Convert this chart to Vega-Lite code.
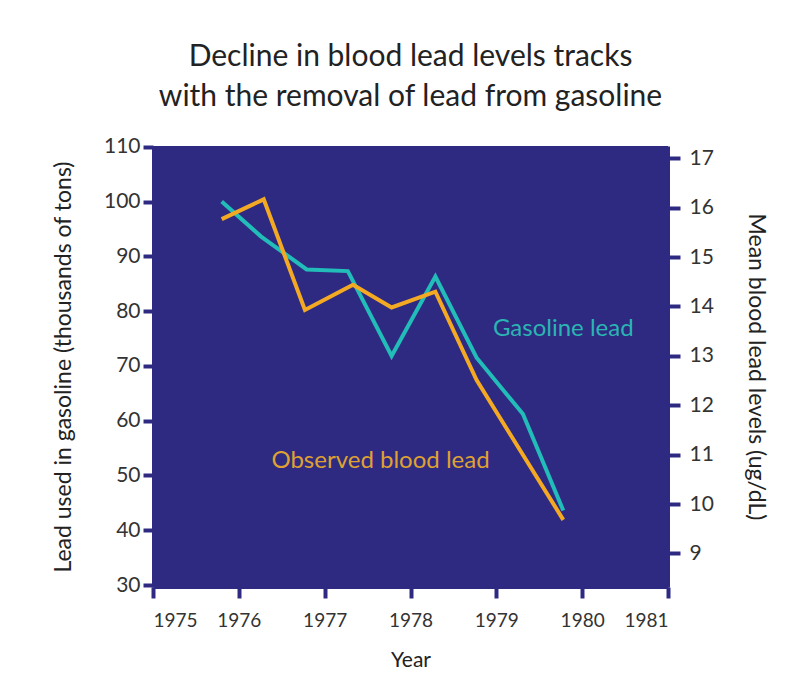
{
  "$schema": "https://vega.github.io/schema/vega-lite/v6.json",
  "width": 515,
  "height": 441,
  "autosize": {"type": "none"},
  "padding": {"left": 153, "top": 146, "right": 141, "bottom": 96},
  "background": "#ffffff",
  "title": {
    "text": ["Decline in blood lead levels tracks", "with the removal of lead from gasoline"],
    "font": "Lato",
    "fontSize": 30,
    "fontWeight": "normal",
    "lineHeight": 40,
    "color": "#222222",
    "anchor": "middle",
    "offset": 24
  },
  "datasets": {
    "gas": [
      {"year": 1975.80, "value": 100.0},
      {"year": 1976.26, "value": 93.6},
      {"year": 1976.79, "value": 87.6},
      {"year": 1977.27, "value": 87.3},
      {"year": 1977.78, "value": 71.8},
      {"year": 1978.29, "value": 86.3},
      {"year": 1978.77, "value": 71.5},
      {"year": 1979.31, "value": 61.2},
      {"year": 1979.78, "value": 43.6}
    ],
    "blood": [
      {"year": 1975.80, "value": 15.77},
      {"year": 1976.29, "value": 16.17},
      {"year": 1976.77, "value": 13.93},
      {"year": 1977.33, "value": 14.44},
      {"year": 1977.78, "value": 13.98},
      {"year": 1978.29, "value": 14.30},
      {"year": 1978.77, "value": 12.51},
      {"year": 1979.78, "value": 9.68}
    ],
    "gasLabel": [{"year": 1978.96, "value": 75.4, "label": "Gasoline lead"}],
    "bloodLabel": [{"year": 1976.38, "value": 10.73, "label": "Observed blood lead"}]
  },
  "layer": [
    {
      "encoding": {
        "x": {
          "field": "year", "type": "quantitative",
          "scale": {"domain": [1975, 1981], "nice": false, "zero": false},
          "axis": {"title": "Year", "values": [1975, 1976, 1977, 1978, 1979, 1980, 1981], "format": "d", "tickSize": 11, "labelPadding": 13, "titlePadding": 19, "titleFontSize": 21, "labelFontSize": 19}
        },
        "y": {
          "field": "value", "type": "quantitative",
          "scale": {"domain": [29.64, 110.13], "nice": false, "zero": false},
          "axis": {"orient": "left", "title": "Lead used in gasoline (thousands of tons)", "values": [30, 40, 50, 60, 70, 80, 90, 100, 110], "tickSize": 10, "labelPadding": 3, "titlePadding": 28, "labelFontSize": 21, "titleFontSize": 23}
        }
      },
      "layer": [
        {"data": {"name": "gas"}, "mark": {"type": "line", "color": "#22bdb8", "strokeWidth": 4, "strokeJoin": "miter"}},
        {"data": {"name": "gasLabel"}, "mark": {"type": "text", "color": "#2bb4b2", "font": "Lato", "fontSize": 24, "align": "left", "baseline": "alphabetic"}, "encoding": {"text": {"field": "label"}}}
      ]
    },
    {
      "encoding": {
        "x": {
          "field": "year", "type": "quantitative",
          "scale": {"domain": [1975, 1981], "nice": false, "zero": false},
          "axis": {"title": "Year", "values": [1975, 1976, 1977, 1978, 1979, 1980, 1981], "format": "d", "tickSize": 11, "labelPadding": 13, "titlePadding": 19, "titleFontSize": 21, "labelFontSize": 19}
        },
        "y": {
          "field": "value", "type": "quantitative",
          "scale": {"domain": [8.32, 17.25], "nice": false, "zero": false},
          "axis": {"orient": "right", "title": "Mean blood lead levels (ug/dL)", "values": [9, 10, 11, 12, 13, 14, 15, 16, 17], "tickSize": 12, "labelPadding": 9, "titlePadding": 30, "titleAngle": 90, "labelFontSize": 21, "titleFontSize": 23}
        }
      },
      "layer": [
        {"data": {"name": "blood"}, "mark": {"type": "line", "color": "#f4a923", "strokeWidth": 4, "strokeJoin": "miter"}},
        {"data": {"name": "bloodLabel"}, "mark": {"type": "text", "color": "#dfa132", "font": "Lato", "fontSize": 24, "align": "left", "baseline": "alphabetic"}, "encoding": {"text": {"field": "label"}}}
      ]
    }
  ],
  "resolve": {"scale": {"y": "independent"}},
  "config": {
    "view": {"fill": "#2e2a82", "stroke": null},
    "axis": {
      "grid": false,
      "domainColor": "#2e2a82",
      "domainWidth": 3,
      "tickColor": "#2e2a82",
      "tickWidth": 4,
      "labelColor": "#333333",
      "labelFont": "Lato",
      "titleFont": "Lato",
      "titleFontWeight": "normal",
      "titleColor": "#222222"
    }
  }
}
